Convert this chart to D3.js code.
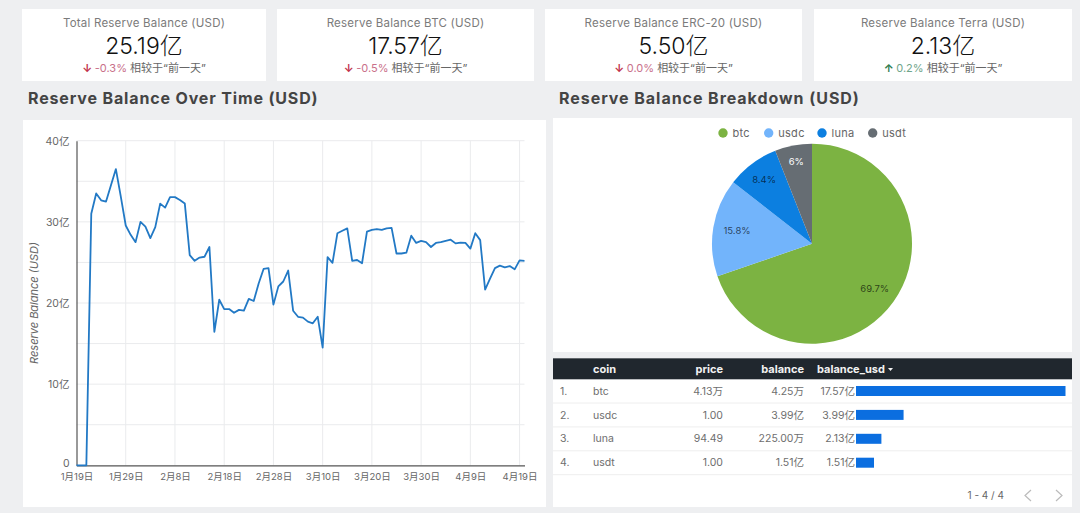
<!DOCTYPE html>
<html>
<head>
<meta charset="utf-8">
<script src="https://cdn.jsdelivr.net/npm/d3@7"></script>
<style>
body { margin: 0; background: #eeeff1; overflow: hidden; }
text { font-family: Inter, "Noto Sans CJK SC", sans-serif; }
</style>
</head>
<body>
<svg id="chart" width="1080" height="513"></svg>
<script>
(function(){
/* values are in 亿 USD, one per day from 1月19日 */
var balance = [0, 0, 0, 31, 33.5, 32.65, 32.5, 34.5, 36.5, 33.1, 29.55, 28.4, 27.5, 30, 29.4, 28, 29.35, 32.25, 31.75, 33.05,
  33.05, 32.7, 32.25, 25.9, 25.2, 25.6, 25.7, 26.9, 16.45, 20.4, 19.25, 19.25, 18.8, 19.15, 19.05, 20.5, 20.25, 22.4, 24.2, 24.3,
  19.8, 22.05, 22.65, 24, 19.05, 18.3, 18.2, 17.7, 17.5, 18.3, 14.5, 25.65, 24.95, 28.6, 28.9, 29.2, 25.2, 25.3, 24.9, 28.8,
  29, 29.1, 29, 29.2, 29.25, 26.1, 26.1, 26.2, 28.3, 27.4, 27.65, 27.5, 26.9, 27.4, 27.5, 27.65, 27.8, 27.35, 27.45, 27.4,
  26.7, 28.6, 27.75, 21.65, 23, 24.3, 24.6, 24.4, 24.55, 24.15, 25.25, 25.2];
var startDate = Date.UTC(2022, 0, 19);
var dayMs = 86400000;
var xTickLabels = ['1月19日', '1月29日', '2月8日', '2月18日', '2月28日', '3月10日', '3月20日', '3月30日', '4月9日', '4月19日'];
var yTicks = [0, 10, 20, 30, 40];
var yGrid = [5, 10, 15, 20, 25, 30, 35, 40];

var cardTitles = ['Total Reserve Balance (USD)', 'Reserve Balance BTC (USD)', 'Reserve Balance ERC-20 (USD)', 'Reserve Balance Terra (USD)'];
var cardValues = ['25.19亿', '17.57亿', '5.50亿', '2.13亿'];
var cardDeltas = ['-0.3%', '-0.5%', '0.0%', '0.2%'];
var cardUp = [false, false, false, true];

var coins = ['btc', 'usdc', 'luna', 'usdt'];
var coinUsd = [17.57, 3.99, 2.13, 1.51];
var pieLabels = ['69.7%', '15.8%', '8.4%', '6%'];
var priceLabels = ['4.13万', '1.00', '94.49', '1.00'];
var balanceLabels = ['4.25万', '3.99亿', '225.00万', '1.51亿'];
var usdLabels = ['17.57亿', '3.99亿', '2.13亿', '1.51亿'];

var svg = d3.select('#chart');

function panel(x, y, w, h) {
  svg.append('rect').attr('x', x).attr('y', y).attr('width', w).attr('height', h).attr('fill', '#ffffff');
}

/* score cards */
var cardX = [22, 277, 545, 814];
var cardW = [244, 257, 257, 258];
cardTitles.forEach(function(title, i) {
  panel(cardX[i], 9, cardW[i], 72);
  var cx = cardX[i] + cardW[i] / 2;
  svg.append('text').attr('x', cx).attr('y', 26.5).attr('text-anchor', 'middle')
    .attr('font-size', '11.5px').attr('letter-spacing', '0.22px').attr('fill', '#7b7b7b').text(title);
  svg.append('text').attr('x', cx).attr('y', 53.5).attr('text-anchor', 'middle')
    .attr('font-size', '23px').attr('font-weight', 300).attr('fill', '#111111').text(cardValues[i]);
  var d = svg.append('text').attr('x', cx).attr('y', 72).attr('text-anchor', 'middle').attr('font-size', '11px');
  d.append('tspan').attr('fill', cardUp[i] ? '#2e7d4f' : '#c2334d').attr('font-weight', 700).text(cardUp[i] ? '↑ ' : '↓ ');
  d.append('tspan').attr('fill', cardUp[i] ? '#6fa58a' : '#c9708a').text(cardDeltas[i] + ' ');
  d.append('tspan').attr('fill', '#666666').text('相较于“前一天”');
});

/* section titles */
svg.append('text').attr('x', 28).attr('y', 104).attr('font-size', '16px').attr('font-weight', 700)
  .attr('letter-spacing', '0.85px').attr('fill', '#444444').text('Reserve Balance Over Time (USD)');
svg.append('text').attr('x', 559).attr('y', 104).attr('font-size', '16px').attr('font-weight', 700)
  .attr('letter-spacing', '0.95px').attr('fill', '#444444').text('Reserve Balance Breakdown (USD)');

/* line chart */
panel(23, 120, 523, 387);
var x = d3.scaleUtc().domain([startDate, startDate + 91 * dayMs]).range([76.5, 524.5]);
var y = d3.scaleLinear().domain([0, 40]).range([465.3, 140.7]);
var xTickValues = xTickLabels.map(function(d, i) { return startDate + i * 10 * dayMs; });

svg.append('g').selectAll('line').data(yGrid).enter().append('line')
  .attr('x1', x.range()[0]).attr('x2', x.range()[1])
  .attr('y1', y).attr('y2', y)
  .attr('stroke', '#eaebed').attr('stroke-width', 1);
svg.append('g').selectAll('line').data(xTickValues.slice(1)).enter().append('line')
  .attr('x1', x).attr('x2', x)
  .attr('y1', y(40)).attr('y2', y(0))
  .attr('stroke', '#eaebed').attr('stroke-width', 1);

var yAxis = svg.append('g').attr('transform', 'translate(' + x.range()[0] + ',0)')
  .call(d3.axisLeft(y).tickValues(yTicks).tickSize(0).tickPadding(7)
    .tickFormat(function(d) { return d === 0 ? '0' : d + '亿'; }));
var xAxis = svg.append('g').attr('transform', 'translate(0,' + y(0) + ')')
  .call(d3.axisBottom(x).tickValues(xTickValues).tickSize(0).tickPadding(8)
    .tickFormat(function(d, i) { return xTickLabels[i]; }));
[yAxis, xAxis].forEach(function(a) {
  a.select('.domain').attr('stroke', '#555555').attr('stroke-width', 1.2);
  a.selectAll('text').attr('fill', '#666666').attr('font-family', 'Inter, "Noto Sans CJK SC", sans-serif');
});
yAxis.selectAll('text').attr('font-size', '10.5px');
/* the zero sits just above the first date label */
yAxis.selectAll('.tick').filter(function(d) { return d === 0; }).select('text').attr('dy', '0.1em');
xAxis.selectAll('text').attr('font-size', '9.5px');

svg.append('path').datum(balance)
  .attr('fill', 'none').attr('stroke', '#2279c5').attr('stroke-width', 1.8).attr('stroke-linejoin', 'round')
  .attr('d', d3.line()
    .x(function(d, i) { return x(startDate + i * dayMs); })
    .y(function(d) { return y(d); }));

svg.append('text').attr('transform', 'translate(38,303) rotate(-90)').attr('text-anchor', 'middle')
  .attr('font-size', '11px').attr('font-style', 'italic').attr('fill', '#666666').text('Reserve Balance (USD)');

/* pie chart */
panel(553, 118, 519, 234);
var pieColors = ['#7cb342', '#72b4fb', '#0c7fe0', '#666d73'];
var labelFill = ['#000000', '#000000', '#000000', '#ffffff'];
var labelOpacity = [0.65, 0.65, 0.65, 1];
var labelRadius = [77, 76, 80, 84];
var pieCenter = [812, 243.7];
var pie = d3.pie().sort(null)(coinUsd);
var arc = d3.arc().innerRadius(0).outerRadius(100);
var pieG = svg.append('g').attr('transform', 'translate(' + pieCenter[0] + ',' + pieCenter[1] + ')');
pieG.selectAll('path').data(pie).enter().append('path')
  .attr('d', arc)
  .attr('fill', function(d, i) { return pieColors[i]; });
pieG.selectAll('text').data(pie).enter().append('text')
  .attr('transform', function(d, i) {
    var c = d3.arc().innerRadius(labelRadius[i]).outerRadius(labelRadius[i]).centroid(d);
    return 'translate(' + c + ')';
  })
  .attr('text-anchor', 'middle').attr('dy', '0.35em').attr('font-size', '9.5px')
  .attr('fill', function(d, i) { return labelFill[i]; })
  .attr('fill-opacity', function(d, i) { return labelOpacity[i]; })
  .text(function(d, i) { return pieLabels[i]; });

var legendX = [723, 768.7, 822, 872.7];
var legend = svg.append('g').selectAll('g').data(coins).enter().append('g')
  .attr('transform', function(d, i) { return 'translate(' + legendX[i] + ',133)'; });
legend.append('circle').attr('r', 4.7).attr('fill', function(d, i) { return pieColors[i]; });
legend.append('text').attr('x', 9.5).attr('dy', '0.35em').attr('font-size', '11px').attr('letter-spacing', '0.3px').attr('fill', '#666666')
  .text(String);

/* table */
panel(553, 358, 519, 149);
svg.append('rect').attr('x', 553).attr('y', 358.3).attr('width', 519).attr('height', 21).attr('fill', '#20272e');
var headFont = 'Roboto, sans-serif';
function head(tx, anchor, label) {
  svg.append('text').attr('x', tx).attr('y', 373).attr('text-anchor', anchor)
    .attr('font-size', '11px').attr('font-weight', 700).attr('font-family', headFont)
    .attr('fill', '#f2f2f2').text(label);
}
head(593, 'start', 'coin');
head(723, 'end', 'price');
head(804, 'end', 'balance');
head(817, 'start', 'balance_usd');
svg.append('path').attr('d', 'M888 368h5l-2.5 3z').attr('fill', '#f2f2f2');

var rowY = d3.scalePoint().domain(coins).range([391, 462.7]);
var barW = d3.scaleLinear().domain([0, 17.57]).range([0, 209.5]);
var rows = svg.append('g').selectAll('g').data(coins).enter().append('g')
  .attr('transform', function(d) { return 'translate(0,' + rowY(d) + ')'; });
rows.append('line').attr('x1', 553).attr('x2', 1072).attr('y1', 12).attr('y2', 12).attr('stroke', '#eeeeee');
function cell(tx, anchor, fn) {
  rows.append('text').attr('x', tx).attr('dy', '0.35em').attr('text-anchor', anchor)
    .attr('font-size', '10.5px').attr('fill', '#6e6e6e').text(fn);
}
cell(560, 'start', function(d, i) { return (i + 1) + '.'; });
cell(593, 'start', String);
cell(723, 'end', function(d, i) { return priceLabels[i]; });
cell(804, 'end', function(d, i) { return balanceLabels[i]; });
cell(855, 'end', function(d, i) { return usdLabels[i]; });
rows.append('rect').attr('x', 856).attr('y', -5).attr('height', 10)
  .attr('width', function(d, i) { return barW(coinUsd[i]); })
  .attr('fill', '#0b6ee0');

svg.append('text').attr('x', 1004).attr('y', 499).attr('text-anchor', 'end').attr('font-size', '10px')
  .attr('fill', '#666666').text('1 - 4 / 4');
svg.append('path').attr('d', 'M1031 490l-6 5.5 6 5.5').attr('fill', 'none').attr('stroke', '#bbbbbb').attr('stroke-width', 1.2);
svg.append('path').attr('d', 'M1056 490l6 5.5-6 5.5').attr('fill', 'none').attr('stroke', '#bbbbbb').attr('stroke-width', 1.2);
})();
</script>
</body>
</html>
